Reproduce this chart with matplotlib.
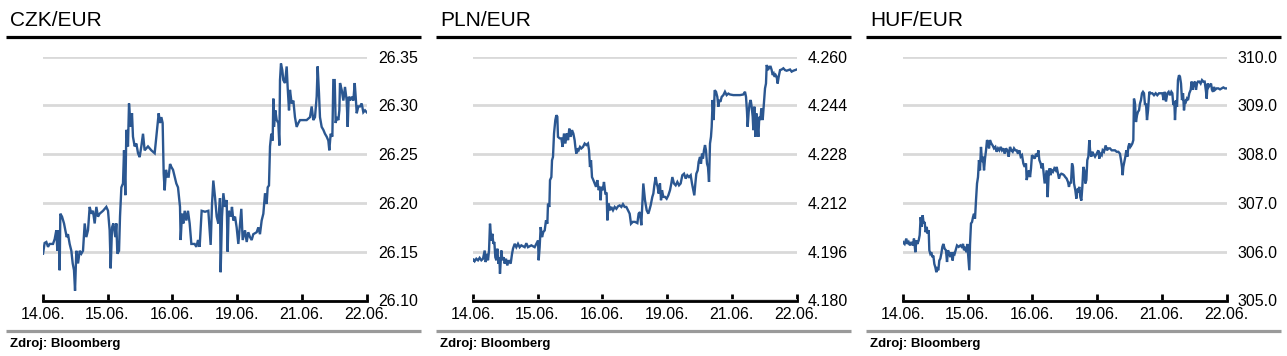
import matplotlib
matplotlib.use("Agg")
import matplotlib.pyplot as plt
from matplotlib.lines import Line2D
from matplotlib.ticker import FormatStrFormatter

plt.rcParams['font.family'] = ['Liberation Sans', 'DejaVu Sans']

# trading days shown on the x axis
day_labels = ["14.06.", "15.06.", "16.06.", "19.06.", "21.06.", "22.06."]

# CZK/EUR: time in trading days since 14.06., rate
czk_time = [0.005, 0.030, 0.056, 0.082, 0.107, 0.159, 0.185, 0.210, 0.226, 0.246,
            0.262, 0.272, 0.298, 0.329, 0.349, 0.370, 0.390, 0.416, 0.442, 0.463,
            0.483, 0.499, 0.519, 0.545, 0.571, 0.596, 0.622, 0.648, 0.673, 0.699,
            0.725, 0.750, 0.776, 0.802, 0.828, 0.853, 0.879, 0.931, 0.982, 1.008,
            1.033, 1.049, 1.070, 1.090, 1.121, 1.136, 1.152, 1.178, 1.193, 1.214,
            1.239, 1.255, 1.275, 1.291, 1.316, 1.332, 1.358, 1.378, 1.393, 1.419,
            1.445, 1.471, 1.496, 1.522, 1.548, 1.573, 1.625, 1.676, 1.728, 1.769,
            1.790, 1.810, 1.831, 1.851, 1.867, 1.882, 1.903, 1.923, 1.944, 1.965,
            1.985, 2.011, 2.037, 2.062, 2.088, 2.119, 2.129, 2.150, 2.170, 2.191,
            2.217, 2.242, 2.268, 2.294, 2.319, 2.345, 2.371, 2.397, 2.422, 2.453,
            2.505, 2.556, 2.592, 2.613, 2.633, 2.659, 2.685, 2.710, 2.736, 2.746,
            2.767, 2.788, 2.813, 2.839, 2.854, 2.870, 2.901, 2.921, 2.942, 2.968,
            2.993, 3.019, 3.045, 3.065, 3.086, 3.122, 3.148, 3.173, 3.199, 3.225,
            3.250, 3.302, 3.328, 3.353, 3.379, 3.405, 3.431, 3.456, 3.472, 3.492,
            3.508, 3.528, 3.549, 3.559, 3.569, 3.590, 3.611, 3.636, 3.652, 3.662,
            3.677, 3.698, 3.713, 3.739, 3.765, 3.780, 3.801, 3.816, 3.842, 3.868,
            3.893, 3.919, 3.945, 3.971, 4.022, 4.073, 4.125, 4.151, 4.176, 4.202,
            4.228, 4.243, 4.264, 4.279, 4.305, 4.331, 4.356, 4.382, 4.408, 4.423,
            4.444, 4.470, 4.485, 4.506, 4.521, 4.537, 4.563, 4.578, 4.588, 4.614,
            4.640, 4.665, 4.691, 4.707, 4.722, 4.743, 4.768, 4.794, 4.815, 4.830,
            4.846, 4.871, 4.897, 4.923, 4.948, 4.974, 5.000]
czk_rate = [26.148, 26.159, 26.160, 26.155, 26.158, 26.158, 26.163, 26.172, 26.151, 26.172,
            26.131, 26.189, 26.186, 26.179, 26.172, 26.165, 26.168, 26.158, 26.151, 26.138,
            26.131, 26.110, 26.151, 26.138, 26.151, 26.148, 26.151, 26.179, 26.165, 26.172,
            26.196, 26.189, 26.192, 26.179, 26.196, 26.186, 26.189, 26.192, 26.196, 26.192,
            26.172, 26.133, 26.175, 26.179, 26.165, 26.179, 26.148, 26.151, 26.186, 26.216,
            26.220, 26.254, 26.208, 26.275, 26.258, 26.302, 26.278, 26.292, 26.268, 26.258,
            26.261, 26.251, 26.247, 26.258, 26.271, 26.254, 26.258, 26.254, 26.251, 26.278,
            26.292, 26.282, 26.288, 26.282, 26.230, 26.213, 26.234, 26.227, 26.227, 26.240,
            26.237, 26.234, 26.227, 26.220, 26.216, 26.196, 26.162, 26.189, 26.179, 26.192,
            26.182, 26.192, 26.179, 26.158, 26.158, 26.158, 26.155, 26.162, 26.155, 26.192,
            26.191, 26.192, 26.157, 26.199, 26.223, 26.206, 26.186, 26.179, 26.205, 26.129,
            26.186, 26.210, 26.196, 26.203, 26.150, 26.192, 26.186, 26.196, 26.182, 26.186,
            26.175, 26.158, 26.179, 26.194, 26.162, 26.172, 26.160, 26.170, 26.165, 26.162,
            26.168, 26.170, 26.175, 26.168, 26.182, 26.189, 26.210, 26.199, 26.216, 26.218,
            26.258, 26.271, 26.264, 26.307, 26.278, 26.295, 26.285, 26.282, 26.259, 26.326,
            26.343, 26.336, 26.326, 26.323, 26.340, 26.319, 26.295, 26.316, 26.302, 26.305,
            26.288, 26.278, 26.282, 26.285, 26.285, 26.285, 26.288, 26.299, 26.285, 26.288,
            26.309, 26.340, 26.312, 26.288, 26.278, 26.275, 26.271, 26.268, 26.264, 26.254,
            26.271, 26.268, 26.326, 26.326, 26.282, 26.288, 26.285, 26.295, 26.323, 26.316,
            26.305, 26.319, 26.305, 26.278, 26.309, 26.305, 26.309, 26.305, 26.323, 26.309,
            26.292, 26.299, 26.299, 26.302, 26.293, 26.295, 26.293]

# PLN/EUR
pln_time = [0.000, 0.005, 0.030, 0.056, 0.082, 0.107, 0.133, 0.159, 0.185, 0.200,
            0.221, 0.236, 0.252, 0.267, 0.288, 0.303, 0.319, 0.334, 0.349, 0.365,
            0.380, 0.396, 0.411, 0.421, 0.442, 0.457, 0.478, 0.493, 0.514, 0.534,
            0.555, 0.586, 0.607, 0.622, 0.648, 0.673, 0.699, 0.725, 0.750, 0.802,
            0.828, 0.853, 0.905, 0.956, 0.982, 1.008, 1.018, 1.033, 1.049, 1.070,
            1.090, 1.111, 1.131, 1.152, 1.162, 1.183, 1.193, 1.214, 1.224, 1.239,
            1.255, 1.275, 1.291, 1.306, 1.316, 1.342, 1.368, 1.388, 1.409, 1.430,
            1.450, 1.471, 1.491, 1.512, 1.532, 1.553, 1.573, 1.584, 1.599, 1.615,
            1.635, 1.656, 1.676, 1.702, 1.728, 1.754, 1.779, 1.795, 1.810, 1.826,
            1.841, 1.862, 1.882, 1.903, 1.923, 1.944, 1.965, 1.975, 1.985, 2.006,
            2.026, 2.047, 2.067, 2.078, 2.098, 2.119, 2.139, 2.165, 2.191, 2.217,
            2.242, 2.268, 2.294, 2.319, 2.345, 2.371, 2.397, 2.422, 2.443, 2.469,
            2.505, 2.541, 2.561, 2.582, 2.602, 2.618, 2.633, 2.659, 2.685, 2.710,
            2.726, 2.746, 2.772, 2.788, 2.803, 2.824, 2.839, 2.854, 2.870, 2.890,
            2.906, 2.921, 2.942, 2.968, 2.993, 3.019, 3.045, 3.065, 3.081, 3.106,
            3.132, 3.158, 3.184, 3.209, 3.235, 3.261, 3.287, 3.312, 3.338, 3.364,
            3.384, 3.405, 3.420, 3.436, 3.451, 3.472, 3.487, 3.508, 3.523, 3.539,
            3.554, 3.569, 3.585, 3.600, 3.616, 3.631, 3.647, 3.662, 3.677, 3.688,
            3.703, 3.719, 3.734, 3.755, 3.775, 3.791, 3.806, 3.822, 3.842, 3.868,
            3.893, 3.919, 3.945, 3.971, 4.022, 4.073, 4.125, 4.176, 4.202, 4.218,
            4.233, 4.243, 4.259, 4.274, 4.290, 4.305, 4.321, 4.331, 4.346, 4.362,
            4.377, 4.392, 4.408, 4.423, 4.439, 4.454, 4.475, 4.495, 4.511, 4.526,
            4.537, 4.557, 4.578, 4.598, 4.614, 4.629, 4.645, 4.660, 4.675, 4.691,
            4.706, 4.722, 4.743, 4.768, 4.794, 4.820, 4.845, 4.871, 4.897, 4.922,
            4.948, 4.974, 5.000]
pln_rate = [4.1932, 4.1937, 4.1929, 4.1937, 4.1932, 4.1940, 4.1932, 4.1937, 4.1964, 4.1926,
            4.1953, 4.1932, 4.1964, 4.2052, 4.1997, 4.2019, 4.1986, 4.1992, 4.1942, 4.1932,
            4.1970, 4.1921, 4.1942, 4.1888, 4.1964, 4.1932, 4.1942, 4.1921, 4.1937, 4.1915,
            4.1932, 4.1921, 4.1953, 4.1970, 4.1986, 4.1975, 4.1986, 4.1975, 4.1981, 4.1975,
            4.1988, 4.1975, 4.1981, 4.1975, 4.1986, 4.1997, 4.1932, 4.1975, 4.2041, 4.2008,
            4.2025, 4.2030, 4.2063, 4.2052, 4.2118, 4.2107, 4.2195, 4.2205, 4.2260, 4.2271,
            4.2348, 4.2392, 4.2408, 4.2403, 4.2337, 4.2332, 4.2332, 4.2304, 4.2348, 4.2315,
            4.2348, 4.2326, 4.2364, 4.2337, 4.2359, 4.2348, 4.2326, 4.2304, 4.2282, 4.2299,
            4.2293, 4.2304, 4.2299, 4.2304, 4.2315, 4.2310, 4.2315, 4.2293, 4.2238, 4.2260,
            4.2205, 4.2195, 4.2184, 4.2173, 4.2195, 4.2162, 4.2173, 4.2129, 4.2173, 4.2162,
            4.2189, 4.2151, 4.2151, 4.2063, 4.2118, 4.2096, 4.2107, 4.2096, 4.2107, 4.2101,
            4.2109, 4.2112, 4.2107, 4.2116, 4.2107, 4.2107, 4.2096, 4.2085, 4.2052, 4.2058,
            4.2058, 4.2054, 4.2085, 4.2090, 4.2047, 4.2118, 4.2184, 4.2129, 4.2096, 4.2085,
            4.2096, 4.2112, 4.2140, 4.2151, 4.2178, 4.2205, 4.2184, 4.2173, 4.2151, 4.2184,
            4.2129, 4.2162, 4.2140, 4.2140, 4.2134, 4.2145, 4.2162, 4.2184, 4.2205, 4.2184,
            4.2178, 4.2189, 4.2178, 4.2184, 4.2211, 4.2216, 4.2200, 4.2211, 4.2205, 4.2211,
            4.2184, 4.2162, 4.2145, 4.2184, 4.2216, 4.2227, 4.2255, 4.2271, 4.2249, 4.2282,
            4.2266, 4.2293, 4.2310, 4.2293, 4.2249, 4.2238, 4.2189, 4.2315, 4.2337, 4.2370,
            4.2458, 4.2392, 4.2490, 4.2485, 4.2468, 4.2436, 4.2458, 4.2452, 4.2468, 4.2474,
            4.2485, 4.2474, 4.2479, 4.2476, 4.2474, 4.2474, 4.2474, 4.2476, 4.2485, 4.2468,
            4.2419, 4.2370, 4.2419, 4.2447, 4.2458, 4.2436, 4.2403, 4.2359, 4.2436, 4.2337,
            4.2414, 4.2381, 4.2337, 4.2403, 4.2392, 4.2430, 4.2392, 4.2452, 4.2496, 4.2512,
            4.2573, 4.2556, 4.2567, 4.2567, 4.2556, 4.2540, 4.2545, 4.2534, 4.2540, 4.2534,
            4.2512, 4.2534, 4.2556, 4.2558, 4.2562, 4.2556, 4.2554, 4.2556, 4.2558, 4.2551,
            4.2554, 4.2556, 4.2558]

# HUF/EUR
huf_time = [0.000, 0.005, 0.030, 0.056, 0.072, 0.092, 0.113, 0.133, 0.159, 0.174,
            0.195, 0.210, 0.226, 0.246, 0.262, 0.277, 0.293, 0.308, 0.324, 0.339,
            0.354, 0.370, 0.385, 0.401, 0.411, 0.426, 0.442, 0.457, 0.473, 0.488,
            0.504, 0.519, 0.534, 0.550, 0.565, 0.581, 0.596, 0.612, 0.627, 0.648,
            0.668, 0.684, 0.699, 0.720, 0.735, 0.750, 0.771, 0.786, 0.802, 0.823,
            0.838, 0.864, 0.889, 0.910, 0.931, 0.946, 0.967, 0.982, 0.997, 1.013,
            1.028, 1.039, 1.054, 1.070, 1.085, 1.100, 1.116, 1.131, 1.147, 1.162,
            1.177, 1.193, 1.208, 1.224, 1.239, 1.255, 1.270, 1.286, 1.301, 1.316,
            1.332, 1.347, 1.368, 1.388, 1.409, 1.430, 1.450, 1.471, 1.491, 1.512,
            1.532, 1.553, 1.573, 1.594, 1.615, 1.635, 1.656, 1.676, 1.697, 1.718,
            1.738, 1.759, 1.779, 1.800, 1.821, 1.841, 1.862, 1.882, 1.903, 1.913,
            1.934, 1.949, 1.965, 1.980, 1.995, 2.016, 2.037, 2.057, 2.078, 2.093,
            2.109, 2.129, 2.145, 2.160, 2.175, 2.191, 2.206, 2.222, 2.237, 2.253,
            2.268, 2.283, 2.299, 2.319, 2.340, 2.361, 2.376, 2.397, 2.412, 2.427,
            2.448, 2.469, 2.489, 2.510, 2.530, 2.551, 2.566, 2.582, 2.597, 2.613,
            2.628, 2.644, 2.664, 2.680, 2.695, 2.710, 2.726, 2.741, 2.757, 2.772,
            2.788, 2.803, 2.818, 2.834, 2.849, 2.865, 2.880, 2.896, 2.911, 2.926,
            2.942, 2.968, 2.993, 3.019, 3.034, 3.050, 3.071, 3.086, 3.106, 3.132,
            3.153, 3.173, 3.199, 3.225, 3.250, 3.276, 3.302, 3.328, 3.353, 3.369,
            3.384, 3.395, 3.405, 3.420, 3.436, 3.451, 3.467, 3.482, 3.497, 3.513,
            3.528, 3.544, 3.559, 3.569, 3.585, 3.600, 3.616, 3.631, 3.647, 3.662,
            3.677, 3.693, 3.708, 3.724, 3.739, 3.755, 3.770, 3.786, 3.806, 3.827,
            3.852, 3.878, 3.904, 3.929, 3.955, 3.981, 4.007, 4.027, 4.043, 4.063,
            4.084, 4.104, 4.125, 4.146, 4.161, 4.176, 4.192, 4.202, 4.218, 4.233,
            4.248, 4.264, 4.279, 4.295, 4.310, 4.326, 4.341, 4.357, 4.372, 4.387,
            4.403, 4.423, 4.444, 4.459, 4.475, 4.490, 4.511, 4.526, 4.542, 4.557,
            4.578, 4.598, 4.619, 4.639, 4.660, 4.681, 4.691, 4.706, 4.722, 4.743,
            4.758, 4.773, 4.789, 4.804, 4.820, 4.845, 4.871, 4.897, 4.922, 4.948,
            4.974, 5.000]
huf_rate = [306.18, 306.20, 306.16, 306.27, 306.16, 306.20, 306.13, 306.20, 306.13, 306.27,
            305.99, 306.23, 306.16, 306.23, 306.34, 306.71, 306.51, 306.75, 306.58, 306.61,
            306.40, 306.51, 306.37, 306.44, 306.03, 305.96, 305.99, 305.89, 305.92, 305.75,
            305.68, 305.58, 305.65, 305.62, 305.82, 305.86, 305.96, 306.10, 306.16, 306.06,
            306.03, 305.79, 306.03, 305.96, 305.89, 305.99, 305.82, 305.99, 305.96, 306.06,
            306.13, 306.10, 306.13, 306.10, 306.16, 306.03, 306.10, 305.99, 306.16, 305.89,
            305.62, 306.16, 306.58, 306.61, 306.71, 306.78, 306.68, 307.05, 307.40, 307.53,
            307.88, 307.67, 308.15, 307.84, 307.95, 307.67, 307.91, 308.08, 308.29, 308.25,
            308.12, 308.29, 308.22, 308.18, 308.12, 308.15, 308.05, 308.12, 308.08, 308.15,
            308.08, 308.12, 308.01, 308.12, 308.08, 307.95, 308.15, 308.08, 308.05, 308.12,
            308.08, 308.08, 308.01, 308.08, 307.95, 307.98, 307.81, 307.74, 307.81, 307.47,
            307.60, 307.67, 307.53, 307.71, 307.98, 307.95, 307.91, 308.01, 307.95, 308.08,
            307.88, 307.81, 307.71, 307.81, 307.60, 307.40, 307.53, 307.67, 307.12, 307.60,
            307.71, 307.57, 307.67, 307.64, 307.71, 307.67, 307.74, 307.60, 307.50, 307.57,
            307.60, 307.59, 307.57, 307.53, 307.50, 307.43, 307.33, 307.43, 307.40, 307.81,
            307.74, 307.40, 307.26, 307.09, 307.29, 307.26, 307.33, 307.12, 307.05, 307.33,
            307.74, 307.67, 307.40, 307.47, 307.88, 307.95, 308.29, 308.01, 307.95, 308.05,
            308.01, 307.95, 308.01, 308.08, 307.91, 308.01, 307.98, 308.08, 308.05, 308.18,
            308.08, 308.12, 308.12, 308.08, 308.08, 308.08, 308.05, 308.05, 308.01, 307.88,
            307.74, 307.57, 307.74, 307.84, 307.95, 308.08, 307.95, 308.15, 308.22, 308.15,
            308.18, 308.22, 308.29, 309.14, 309.04, 308.66, 308.80, 308.87, 308.90, 309.04,
            309.11, 309.25, 309.28, 309.25, 309.01, 309.04, 308.70, 308.90, 309.28, 309.25,
            309.25, 309.21, 309.25, 309.21, 309.25, 309.25, 309.25, 309.11, 309.28, 309.08,
            309.25, 309.28, 309.21, 309.28, 309.25, 309.01, 309.08, 308.70, 309.11, 308.97,
            309.52, 309.62, 309.59, 309.45, 309.11, 309.25, 308.90, 309.11, 309.08, 309.14,
            309.11, 309.25, 309.32, 309.49, 309.32, 309.45, 309.49, 309.32, 309.45, 309.49,
            309.49, 309.45, 309.52, 309.49, 309.49, 309.28, 309.14, 309.45, 309.38, 309.42,
            309.45, 309.32, 309.28, 309.38, 309.32, 309.35, 309.35, 309.33, 309.35, 309.37,
            309.35, 309.35]

titles = ["CZK/EUR", "PLN/EUR", "HUF/EUR"]
series = [(czk_time, czk_rate), (pln_time, pln_rate), (huf_time, huf_rate)]
y_limits = [(26.10, 26.35), (4.180, 4.260), (305.0, 310.0)]
y_steps = [0.05, 0.016, 1.0]
y_formats = ["%.2f", "%.3f", "%.1f"]

W, H = 1287, 356
fig = plt.figure(figsize=(W / 100, H / 100), dpi=100)

line_color = "#2b5791"
grid_color = "#d9d9d9"

for i in range(3):
    off = 430 * i
    ax = fig.add_axes([(42.7 + off) / W, (H - 300.5) / H, 324 / W, 243.8 / H])
    t, v = series[i]
    ax.plot(t, v, color=line_color, linewidth=1.7, solid_joinstyle="miter")

    lo, hi = y_limits[i]
    ticks = [lo + k * y_steps[i] for k in range(6)]
    ax.set_ylim(lo, hi)
    ax.set_yticks(ticks)
    ax.yaxis.set_major_formatter(FormatStrFormatter(y_formats[i]))
    ax.set_xlim(0, 5)
    ax.set_xticks(range(6))
    ax.set_xticklabels(day_labels)

    ax.yaxis.grid(True, color=grid_color, linewidth=2)
    ax.set_axisbelow(True)
    for side in ["left", "right", "top"]:
        ax.spines[side].set_visible(False)
    ax.spines["bottom"].set_linewidth(2)
    ax.spines["bottom"].set_color("black")

    ax.tick_params(axis="y", length=0, pad=8, labelleft=False, labelright=True,
                   labelsize=11.5)
    ax.tick_params(axis="x", direction="in", length=5, width=2, pad=5,
                   labelsize=11.5)

    # title, rules and source
    fig.text((10 + off) / W, 1 - 26 / H, titles[i], fontsize=15, va="baseline")
    fig.add_artist(Line2D([(6 + off) / W, (421 + off) / W], [1 - 37.4 / H] * 2,
                          color="black", linewidth=2.3, solid_capstyle="butt"))
    fig.add_artist(Line2D([(6 + off) / W, (421 + off) / W], [1 - 330.7 / H] * 2,
                          color="#9a9a9a", linewidth=2.3, solid_capstyle="butt"))
    fig.text((10 + off) / W, 1 - 346.5 / H, "Zdroj: Bloomberg", fontsize=9.5,
             fontweight="bold", va="baseline")

fig.savefig("out.png", dpi=100)
